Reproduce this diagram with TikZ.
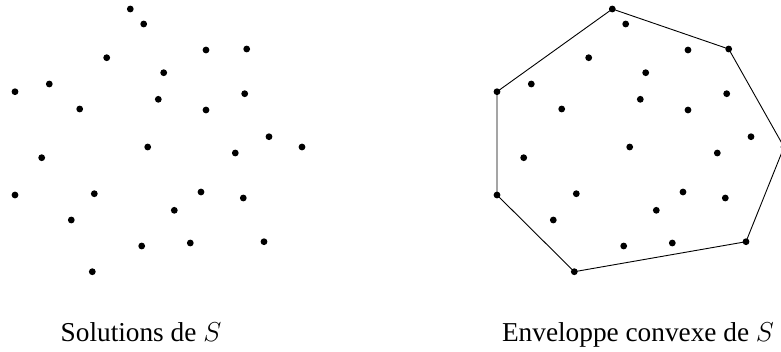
\RequirePackage{fix-cm}
\documentclass[tikz,border=0pt]{standalone}
\usepackage{fontspec}
\setmainfont{Liberation Serif}
\begin{document}
\begin{tikzpicture}[x=1pt,y=-1pt,
  dot/.style={circle,fill=black,inner sep=0pt,minimum size=6.8pt},
  hull/.style={draw=black,line width=0.9pt,line join=round},
  lbl/.style={anchor=base,inner sep=0pt,font=\fontsize{27.3}{30}\selectfont}]
\useasboundingbox (0,0) rectangle (781,351);
\foreach \x/\y [count=\i] in {
  130.3/9, 143.7/24, 206/50, 246.7/49, 106.7/57.7, 163.7/72.7,
  49.3/84, 15/91.7, 158.3/99.3, 244.7/93.7, 79.7/109, 206/110,
  269/136.7, 302/147, 147.7/147, 235.3/153, 41.7/157.7, 15/195,
  94.3/193.7, 201/192, 243.3/198, 174.3/210.3, 71.3/220,
  141.7/246, 190.3/243, 264/241.7, 92.3/271.7}{
  \node[dot] (l\i) at (\x,\y) {};
  \node[dot] (r\i) at (\x+482,\y) {};
}
\draw[hull] (r1.center) -- (r4.center) -- (r14.center) -- (r26.center)
  -- (r27.center) -- (r18.center) -- (r8.center) -- cycle;
\node[lbl] (capl) at (141,341) {Solutions de $S$};
\node[lbl] (capr) at (638,341) {Enveloppe convexe de $S$};
\end{tikzpicture}
\end{document}
